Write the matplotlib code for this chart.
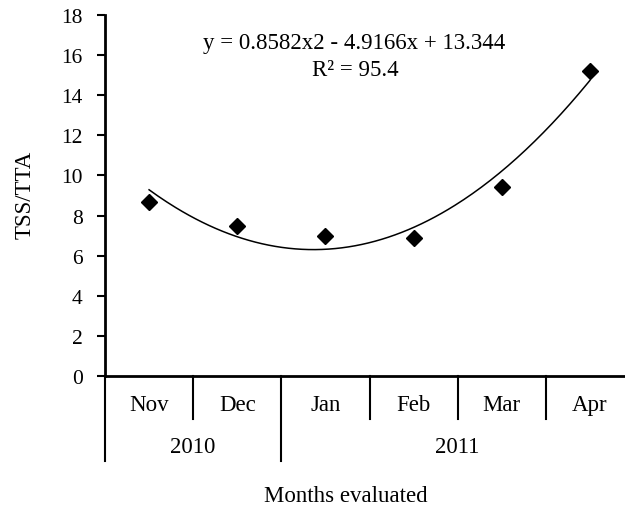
import matplotlib
matplotlib.use("Agg")
import matplotlib.pyplot as plt
import numpy as np
from matplotlib.transforms import blended_transform_factory

plt.rcParams['font.family'] = ['Liberation Serif', 'DejaVu Serif']

months = ["Nov", "Dec", "Jan", "Feb", "Mar", "Apr"]
years = ["2010", "2011"]
year_spans = [(1, 2), (3, 6)]
tss_tta = [8.7, 7.5, 7.0, 6.9, 9.4, 15.2]
coef = [0.8582, -4.9166, 13.344]
eq_text = "y = 0.8582x2 - 4.9166x + 13.344"
r2_text = "R² = 95.4"

FS = 16.5

fig = plt.figure(figsize=(6.25, 5.1), dpi=100)
ax = fig.add_axes([105/625, (510-377)/510, (634-105)/625, (377-16)/510])

x = np.arange(1, len(months) + 1)
ax.plot(x, tss_tta, linestyle='none', marker='D', markersize=8.5, color='black', zorder=3)
xs = np.linspace(1, 6, 200)
ax.plot(xs, np.polyval(coef, xs), color='black', linewidth=1.1)

ax.set_xlim(0.5, 6.5)
ax.set_ylim(0, 18)
ax.set_yticks(range(0, 19, 2))
ax.tick_params(axis='y', direction='out', length=6, width=1.5, labelsize=15.5, pad=10)
ax.set_xticks([])
for s in ['top', 'right']:
    ax.spines[s].set_visible(False)
ax.spines['left'].set_linewidth(2)
ax.spines['bottom'].set_linewidth(2)

tr = blended_transform_factory(ax.transData, ax.transAxes)
month_lvl = -0.119
year_lvl = -0.235
bounds_year = [0.5] + [e + 0.5 for (_, e) in year_spans]
for i in range(len(months) + 1):
    b = i + 0.5
    bottom = year_lvl if b in bounds_year else month_lvl
    ax.plot([b, b], [0, bottom], transform=tr, color='black', linewidth=1.5, clip_on=False)
for xi, m in zip(x, months):
    ax.text(xi, -0.078, m, transform=tr, ha='center', va='center', fontsize=FS)
for (s, e), yname in zip(year_spans, years):
    ax.text((s + e) / 2, -0.194, yname, transform=tr, ha='center', va='center', fontsize=FS)

fig.text(346/625, 1 - 497/510, "Months evaluated", ha='center', va='center', fontsize=FS)
fig.text(25/625, 1 - 195/510, "TSS/TTA", ha='center', va='center', rotation=90, fontsize=FS)

ax.text(354/625, 1 - 44/510, eq_text, transform=fig.transFigure, ha='center', va='center', fontsize=FS)
ax.text(355/625, 1 - 71/510, r2_text, transform=fig.transFigure, ha='center', va='center', fontsize=FS)

fig.savefig("out.png", dpi=100)
